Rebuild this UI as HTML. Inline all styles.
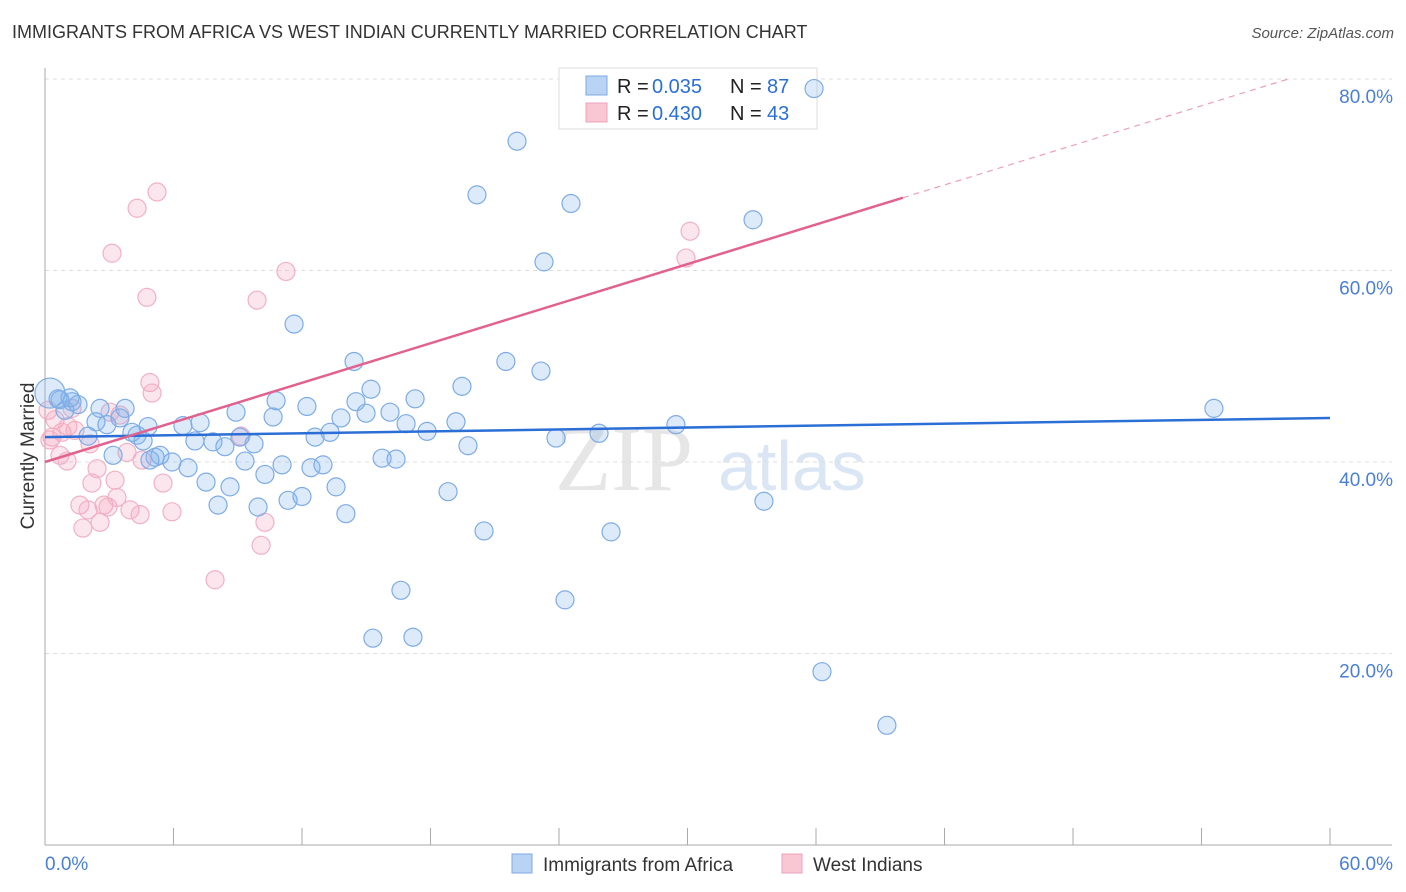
<!DOCTYPE html>
<html><head><meta charset="utf-8"><style>
body{margin:0;background:#fff;font-family:"Liberation Sans",sans-serif}
#wrap{position:relative;width:1406px;height:892px;overflow:hidden}
.t{position:absolute;white-space:nowrap}
</style></head><body>
<div id="wrap">
<div class="t" style="left:12px;top:22px;font-size:18px;color:#333">IMMIGRANTS FROM AFRICA VS WEST INDIAN CURRENTLY MARRIED CORRELATION CHART</div>
<div class="t" style="right:12px;top:25px;font-size:15px;color:#555;font-style:italic">Source: ZipAtlas.com</div>
<svg id="svg" width="1406" height="892" style="position:absolute;left:0;top:0"></svg>
</div>
<script>
const blueX=[0.23,0.70,1.26,0.93,2.57,1.54,2.38,2.89,3.74,3.50,4.30,4.81,4.58,3.18,5.14,5.37,5.93,6.44,6.68,7.00,7.24,7.52,7.84,8.08,8.40,8.64,8.92,9.10,9.34,9.76,9.95,10.27,10.65,10.79,11.07,11.35,11.63,12.00,12.23,12.42,12.61,12.98,13.31,13.59,13.82,14.05,14.43,14.52,14.99,15.22,15.31,15.74,16.11,16.39,16.62,16.86,17.18,17.28,17.84,18.82,19.19,19.47,19.75,20.17,20.50,21.52,22.04,23.16,23.30,23.86,24.28,24.56,25.87,26.43,29.46,33.06,33.57,35.91,36.28,39.31,54.58,2.01,4.06,0.61,4.90,1.17];
const blueY=[47.2,46.5,46.3,45.4,45.6,46.0,44.2,43.9,45.6,44.6,42.8,43.7,42.2,40.7,40.5,40.7,40.0,43.8,39.4,42.2,44.1,37.9,42.1,35.5,41.6,37.4,45.2,42.6,40.1,41.9,35.3,38.7,44.7,46.4,39.7,36.0,54.4,36.4,45.8,39.4,42.6,39.7,43.1,37.4,44.6,34.6,50.5,46.3,45.1,47.6,21.6,40.4,45.2,40.3,26.6,44.0,21.7,46.6,43.2,36.9,44.2,47.9,41.7,67.9,32.8,50.5,73.5,49.5,60.9,42.5,25.6,67.0,43.0,32.7,43.9,65.3,35.9,79.0,18.1,12.5,45.6,42.7,43.1,46.6,40.2,46.7];
const pinkX=[0.14,0.47,0.33,0.79,1.07,0.70,1.03,1.26,1.40,1.63,1.77,2.01,2.19,2.43,2.57,2.75,2.94,3.27,3.36,3.50,3.83,3.97,4.30,4.44,4.53,4.76,4.90,5.00,5.23,5.51,5.93,3.13,7.94,9.15,9.90,10.09,10.27,11.25,29.93,30.12,2.10,0.23,3.04];
const pinkY=[45.4,44.4,42.6,43.1,43.7,40.7,40.1,45.6,43.3,35.5,33.1,35.0,37.8,39.3,33.7,35.5,35.3,38.1,36.3,44.9,41.0,35.0,66.5,34.5,40.2,57.2,48.3,47.2,68.2,37.8,34.8,61.8,27.7,42.7,56.9,31.3,33.7,59.9,61.3,64.1,41.9,42.3,45.2];
const yTicks=[20,40,60,80];
const xTickLabels=["0.0%","60.0%"];
const blueFit=[42.6,44.6];
const pinkFit=[40.0,0.689];

const X0=45,X1=1330,Y0=845,Y80=79;
const sx=v=>X0+v/60*(X1-X0);
const sy=v=>Y0-v/80*(Y0-Y80);
const svg=document.getElementById('svg');
const NS='http://www.w3.org/2000/svg';
function mk(tag,attrs,name,parent){const e=document.createElementNS(NS,tag);for(const k in attrs)e.setAttribute(k,attrs[k]);


(parent||svg).appendChild(e);return e;}
// watermark
let w=mk('text',{x:555,y:490,'font-size':92,fill:'#e6e6e6','font-family':'Liberation Serif'},'watermark-zip');w.textContent='ZIP';
w=mk('text',{x:718,y:490,'font-size':70,fill:'#dbe6f5','font-family':'Liberation Sans'},'watermark-atlas');w.textContent='atlas';
// gridlines
yTicks.forEach(t=>{mk('line',{x1:X0,x2:1392,y1:sy(t),y2:sy(t),stroke:'#ddd','stroke-dasharray':'4,4'},'gridline-'+t);
const l=mk('text',{x:1393,y:sy(t)+24,'font-size':19,fill:'#4a7fd6','text-anchor':'end'},'y-tick-label');l.textContent=t.toFixed(1)+'%';});
// axes
mk('line',{x1:X0,x2:X0,y1:68,y2:Y0,stroke:'#aaa'},'y-axis');
mk('line',{x1:X0,x2:1392,y1:Y0,y2:Y0,stroke:'#aaa'},'x-axis');
for(let i=0;i<=10;i++){const x=sx(i*6);mk('line',{x1:x,x2:x,y1:828,y2:Y0,stroke:'#aaa'},'x-tick');}
let t=mk('text',{x:45,y:870,'font-size':19,fill:'#4a7fd6'},'x-tick-label-min');t.textContent=xTickLabels[0];
t=mk('text',{x:1393,y:870,'font-size':19,fill:'#4a7fd6','text-anchor':'end'},'x-tick-label-max');t.textContent=xTickLabels[1];
t=mk('text',{x:34,y:456,'font-size':19,fill:'#333','text-anchor':'middle',transform:'rotate(-90 34 456)'},'y-axis-title');t.textContent='Currently Married';
// legend
const g=mk('g',{},'legend');
mk('rect',{x:559,y:68,width:258,height:61,fill:'#fff',stroke:'#ddd'},'legend-box',g);
[[0,'#b9d3f5','#7ea9e3','0.035','87'],[1,'#f9c6d4','#eda1b9','0.430','43']].forEach(([i,f,s,r,n])=>{
 const y=76+i*27;
 mk('rect',{x:586,y:y,width:21,height:19,fill:f,stroke:s},'legend-swatch',g);
 let a=mk('text',{x:617,y:y+17,'font-size':20,fill:'#222'},'legend-r-label',g);a.textContent='R = ';
 a=mk('text',{x:652,y:y+17,'font-size':20,fill:'#2b6fd6'},'legend-r-value',g);a.textContent=r;
 a=mk('text',{x:730,y:y+17,'font-size':20,fill:'#222'},'legend-n-label',g);a.textContent='N = ';
 a=mk('text',{x:767,y:y+17,'font-size':20,fill:'#2b6fd6'},'legend-n-value',g);a.textContent=n;
});
// points
pinkX.forEach((v,i)=>mk('circle',{cx:sx(v),cy:sy(pinkY[i]),r:9,fill:'rgba(244,165,192,0.28)',stroke:'#f2b0c4','stroke-width':1.2},'pink-point'));
blueX.forEach((v,i)=>mk('circle',{cx:sx(v),cy:sy(blueY[i]),r:i==0?15:9,fill:'rgba(130,178,238,0.28)',stroke:'#7eace6','stroke-width':1.2},'blue-point'));
// fits
mk('line',{x1:sx(0),y1:sy(blueFit[0]),x2:sx(60),y2:sy(blueFit[1]),stroke:'#2b6fd6','stroke-width':2.5},'blue-trend-line');
const pe=40.06;
mk('line',{x1:sx(0),y1:sy(pinkFit[0]),x2:sx(pe),y2:sy(pinkFit[0]+pinkFit[1]*pe),stroke:'#e2628f','stroke-width':2.5},'pink-trend-line');
const xe=(80-pinkFit[0])/pinkFit[1];
mk('line',{x1:sx(pe),y1:sy(pinkFit[0]+pinkFit[1]*pe),x2:sx(xe),y2:sy(80),stroke:'#eaa0b8','stroke-width':1.2,'stroke-dasharray':'6,5'},'pink-trend-extension');
// bottom legend
[[512,'#b9d3f5','#7ea9e3','Immigrants from Africa'],[782,'#f9c6d4','#eda1b9','West Indians']].forEach(([x,f,s,l])=>{
 mk('rect',{x:x,y:854,width:20,height:19,fill:f,stroke:s},'bottom-legend-swatch');
 const a=mk('text',{x:x+31,y:871,'font-size':19,fill:'#333'},'bottom-legend-label');a.textContent=l;
});
</script>
</body></html>
